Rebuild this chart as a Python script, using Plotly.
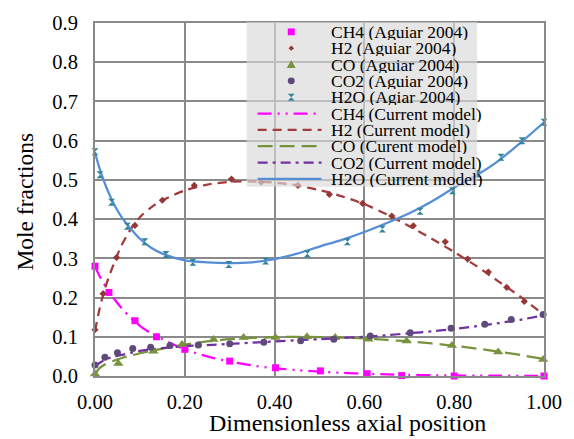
import plotly.graph_objects as go

# ---------------- data ----------------
# Experimental points (Aguiar 2004)
ch4_x = [0.0, 0.031, 0.089, 0.137, 0.200, 0.300, 0.402, 0.502, 0.606, 0.683, 0.800, 1.000]
ch4_y = [0.280, 0.213, 0.141, 0.100, 0.068, 0.038, 0.021, 0.013, 0.006, 0.001, 0.000, 0.000]

h2_x = [0.0, 0.018, 0.048, 0.089, 0.150, 0.221, 0.304, 0.370, 0.452, 0.522, 0.596, 0.661,
        0.709, 0.780, 0.830, 0.876, 0.917, 0.956]
h2_y = [0.118, 0.210, 0.302, 0.384, 0.448, 0.486, 0.502, 0.494, 0.486, 0.463, 0.440, 0.408,
        0.383, 0.342, 0.298, 0.265, 0.226, 0.190]

co_x = [0.0, 0.052, 0.130, 0.194, 0.264, 0.331, 0.402, 0.472, 0.535, 0.609, 0.694, 0.795, 0.898, 0.998]
co_y = [0.005, 0.032, 0.063, 0.080, 0.093, 0.098, 0.098, 0.100, 0.098, 0.094, 0.089, 0.078, 0.061, 0.042]

co2_x = [0.0, 0.022, 0.050, 0.084, 0.124, 0.167, 0.230, 0.300, 0.376, 0.458, 0.532, 0.613,
         0.702, 0.793, 0.868, 0.927, 0.998]
co2_y = [0.028, 0.048, 0.059, 0.070, 0.073, 0.078, 0.079, 0.082, 0.086, 0.090, 0.094, 0.102,
         0.110, 0.122, 0.132, 0.144, 0.157]

h2o_x = [0.0, 0.011, 0.037, 0.072, 0.111, 0.158, 0.218, 0.298, 0.380, 0.473, 0.562, 0.640,
         0.724, 0.796, 0.852, 0.904, 0.951, 1.000]
h2o_y = [0.572, 0.513, 0.443, 0.382, 0.342, 0.310, 0.290, 0.284, 0.293, 0.312, 0.342, 0.375,
         0.420, 0.472, 0.515, 0.558, 0.600, 0.647]

# Model curves (Current model)
m_x = [0.0, 0.01, 0.02, 0.03, 0.045, 0.06, 0.08, 0.10, 0.125, 0.15, 0.20, 0.25, 0.30, 0.35,
       0.40, 0.45, 0.50, 0.55, 0.60, 0.65, 0.70, 0.75, 0.80, 0.85, 0.90, 0.95, 1.00]
m_ch4 = [0.280, 0.255, 0.235, 0.217, 0.193, 0.172, 0.148, 0.128, 0.109, 0.094, 0.068, 0.050,
         0.037, 0.027, 0.020, 0.015, 0.011, 0.008, 0.006, 0.004, 0.003, 0.002, 0.0015, 0.001,
         0.0008, 0.0006, 0.0005]
m_h2 = [0.115, 0.170, 0.215, 0.250, 0.295, 0.335, 0.375, 0.405, 0.430, 0.448, 0.473, 0.488,
        0.495, 0.496, 0.493, 0.486, 0.474, 0.458, 0.438, 0.412, 0.382, 0.350, 0.316, 0.280,
        0.240, 0.200, 0.155]
m_co = [0.005, 0.020, 0.028, 0.034, 0.040, 0.046, 0.052, 0.058, 0.064, 0.070, 0.080, 0.088,
        0.094, 0.097, 0.099, 0.100, 0.099, 0.098, 0.096, 0.092, 0.088, 0.083, 0.077, 0.070,
        0.062, 0.053, 0.043]
m_co2 = [0.025, 0.033, 0.040, 0.045, 0.050, 0.054, 0.059, 0.064, 0.068, 0.071, 0.076, 0.079,
         0.082, 0.085, 0.088, 0.091, 0.094, 0.097, 0.100, 0.104, 0.109, 0.114, 0.120, 0.127,
         0.135, 0.144, 0.155]
m_h2o = [0.570, 0.530, 0.497, 0.468, 0.432, 0.404, 0.375, 0.350, 0.327, 0.312, 0.295, 0.290,
         0.288, 0.290, 0.298, 0.312, 0.330, 0.347, 0.367, 0.390, 0.415, 0.445, 0.480, 0.512,
         0.550, 0.597, 0.647]

x_ticks = [0.0, 0.2, 0.4, 0.6, 0.8, 1.0]
y_ticks = [0.0, 0.1, 0.2, 0.3, 0.4, 0.5, 0.6, 0.7, 0.8, 0.9]

exp_names = ["CH4 (Aguiar 2004)", "H2 (Aguiar 2004)", "CO (Aguiar 2004)",
             "CO2 (Aguiar 2004)", "H2O (Agiar 2004)"]
mod_names = ["CH4 (Current model)", "H2 (Current model)", "CO (Curent model)",
             "CO2 (Current model)", "H2O (Current model)"]

# ---------------- styles ----------------
FONT = "Liberation Serif, Times New Roman, serif"
GRID = "#8a8a8a"
mk_colors = ["#FF00FF", "#953735", "#77933C", "#604A7B", "#31859C"]
mk_symbols = ["square", "diamond", "triangle-up", "circle", "hourglass"]
mk_sizes = [7, 5.5, 9, 7, 7]
ln_colors = ["#FF00FF", "#A33B3B", "#77933C", "#7030A0", "#558ED5"]
ln_dash = ["14px,6px,2px,6px,2px,6px", "9px,6px", "15px,7px", "10px,5px,3px,5px", "solid"]
LW = 2.25

exp_sets = [(ch4_x, ch4_y), (h2_x, h2_y), (co_x, co_y), (co2_x, co2_y), (h2o_x, h2o_y)]
mod_sets = [m_ch4, m_h2, m_co, m_co2, m_h2o]

fig = go.Figure()
for i, ys in enumerate(mod_sets):
    fig.add_trace(go.Scatter(x=m_x, y=ys, mode="lines", name=mod_names[i],
                             line=dict(color=ln_colors[i], width=LW, dash=ln_dash[i], shape="spline",
                                       smoothing=0.8),
                             cliponaxis=False, showlegend=False))
for i, (xs, ys) in enumerate(exp_sets):
    fig.add_trace(go.Scatter(x=xs, y=ys, mode="markers", name=exp_names[i],
                             marker=dict(color=mk_colors[i], symbol=mk_symbols[i], size=mk_sizes[i],
                                         line=dict(width=0)),
                             cliponaxis=False, showlegend=False))

# ---------------- layout / pixel helpers ----------------
W, H = 574, 439
ML, MR, MT, MB = 95, 29, 16, 63
PW, PH = W - ML - MR, H - MT - MB


def px(xp):
    return (xp - ML) / PW


def py(yp):
    return (H - MB - yp) / PH


shapes = []
annotations = []

# manual legend (semi-transparent box above the plot)
shapes.append(dict(type="rect", xref="paper", yref="paper", x0=px(247), x1=px(478),
                   y0=py(183), y1=py(15), fillcolor="rgba(217,217,217,0.66)",
                   line=dict(width=0), layer="above"))
row0, step = 25.0, 16.67
mx = 291.7
legend_names = exp_names + mod_names
for r, name in enumerate(legend_names):
    yc = row0 + r * step
    annotations.append(dict(text=name, xref="paper", yref="paper", x=px(331), y=py(yc),
                            xanchor="left", yanchor="middle", showarrow=False, height=16,
                            valign="middle", borderpad=0,
                            font=dict(family=FONT, size=17.5, color="black")))
    if r >= 5:
        k = r - 5
        shapes.append(dict(type="line", xref="paper", yref="paper", x0=px(258), x1=px(322),
                           y0=py(yc), y1=py(yc), layer="above",
                           line=dict(color=ln_colors[k], width=LW, dash=ln_dash[k])))
    else:
        k = r
        c = mk_colors[k]
        s = mk_sizes[k] / 2.0
        if mk_symbols[k] == "square":
            shapes.append(dict(type="rect", xref="paper", yref="paper", x0=px(mx - s), x1=px(mx + s),
                               y0=py(yc + s), y1=py(yc - s), fillcolor=c, line=dict(width=0), layer="above"))
        elif mk_symbols[k] == "circle":
            shapes.append(dict(type="circle", xref="paper", yref="paper", x0=px(mx - s), x1=px(mx + s),
                               y0=py(yc + s), y1=py(yc - s), fillcolor=c, line=dict(width=0), layer="above"))
        else:
            if mk_symbols[k] == "diamond":
                pts = [(mx, yc - s), (mx + s, yc), (mx, yc + s), (mx - s, yc)]
            elif mk_symbols[k] == "triangle-up":
                pts = [(mx, yc - s), (mx + s, yc + s * 0.8), (mx - s, yc + s * 0.8)]
            else:  # hourglass
                pts = [(mx - s, yc - s), (mx + s, yc - s), (mx - s, yc + s), (mx + s, yc + s)]
            path = "M " + " L ".join(f"{px(a):.5f},{py(b):.5f}" for a, b in pts) + " Z"
            shapes.append(dict(type="path", xref="paper", yref="paper", path=path,
                               fillcolor=c, line=dict(width=0), layer="above"))

# axis titles as annotations
annotations.append(dict(text="Dimensionless axial position", xref="paper", yref="paper",
                        x=px(348.5), y=py(424), xanchor="center", yanchor="middle", showarrow=False,
                        font=dict(family=FONT, size=24, color="black")))
annotations.append(dict(text="Mole fractions", xref="paper", yref="paper",
                        x=px(25), y=py(198), xanchor="center", yanchor="middle", showarrow=False,
                        textangle=-90, font=dict(family=FONT, size=23.5, color="black")))

fig.update_layout(
    width=W, height=H, margin=dict(l=ML, r=MR, t=MT, b=MB, pad=0),
    paper_bgcolor="white", plot_bgcolor="white", showlegend=False,
    font=dict(family=FONT, color="black"),
    shapes=shapes, annotations=annotations,
)
fig.update_xaxes(range=[0, 1], tickvals=x_ticks, tickformat=".2f", showgrid=True, gridcolor=GRID,
                 gridwidth=2, zeroline=False, showline=True, mirror=True, linecolor=GRID, linewidth=2,
                 ticks="", ticklabelstandoff=6, tickfont=dict(family=FONT, size=20.5, color="black"))
fig.update_yaxes(range=[0, 0.9], tickvals=y_ticks, tickformat=".1f", showgrid=True, gridcolor=GRID,
                 gridwidth=2, zeroline=False, showline=True, mirror=True, linecolor=GRID, linewidth=2,
                 ticks="", ticklabelstandoff=11, tickfont=dict(family=FONT, size=20.5, color="black"))

fig.write_html("out.html")
